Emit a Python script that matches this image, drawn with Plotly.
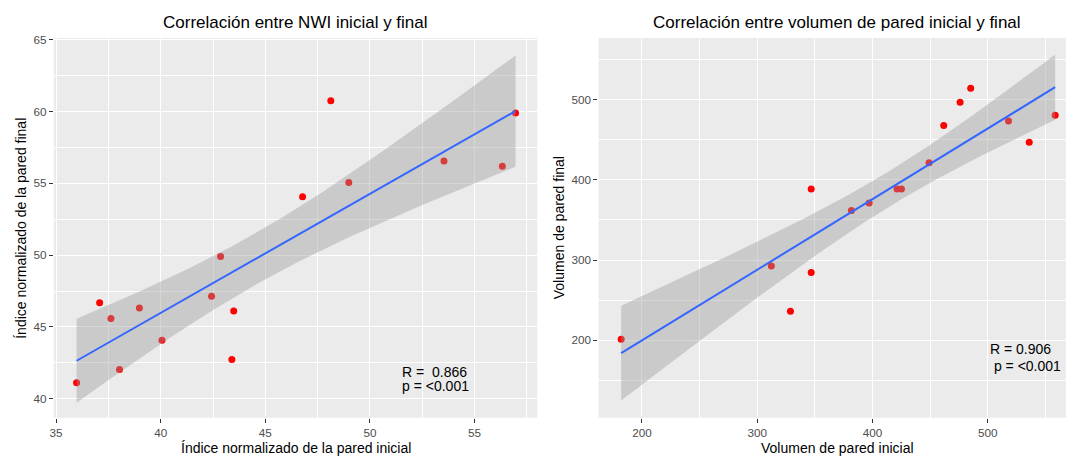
import numpy as np
import plotly.graph_objects as go

# ---------------- data ----------------
nwi_inicial = [46.78, 48.13, 48.99, 53.54, 56.33, 56.96, 35.98, 37.08,
               37.62, 38.03, 38.98, 40.06, 42.43, 42.86, 43.40, 43.49]
nwi_final = [54.07, 60.74, 55.06, 56.55, 56.18, 59.89, 41.11, 46.68,
             45.58, 42.03, 46.31, 44.08, 47.14, 49.91, 42.74, 46.11]

vol_inicial = [346.9, 381.8, 397.2, 421.4, 425.2, 449.2, 461.9, 476.1,
               485.3, 518.1, 536.1, 558.6, 182.0, 312.3, 328.9, 346.9]
vol_final = [388.6, 361.8, 371.1, 388.6, 388.6, 421.1, 467.5, 496.7,
             514.2, 473.2, 446.7, 480.5, 201.2, 292.6, 236.2, 284.4]

titles = ["Correlación entre NWI inicial y final",
          "Correlación entre volumen de pared inicial y final"]
x_titles = ["Índice normalizado de la pared inicial", "Volumen de pared inicial"]
y_titles = ["Índice normalizado de la pared final", "Volumen de pared final"]
stats_r = ["R =\u00a0\u00a00.866", "R = 0.906"]
stats_p = ["p = <0.001", "\u00a0p = <0.001"]

T_975_DF14 = 2.1448  # t quantile for 95% CI, n-2 = 14 df


def lm_band(x, y, n=80):
    x = np.asarray(x, float)
    y = np.asarray(y, float)
    b1, b0 = np.polyfit(x, y, 1)
    xs = np.linspace(x.min(), x.max(), n)
    yh = b0 + b1 * xs
    resid = y - (b0 + b1 * x)
    s = np.sqrt(np.sum(resid ** 2) / (len(x) - 2))
    sxx = np.sum((x - x.mean()) ** 2)
    se = s * np.sqrt(1 / len(x) + (xs - x.mean()) ** 2 / sxx)
    return xs, yh, yh - T_975_DF14 * se, yh + T_975_DF14 * se


FONT = "Liberation Sans, Arial, sans-serif"
W, H = 1066, 456

fig = go.Figure()

panels = [
    dict(x=nwi_inicial, y=nwi_final, xa="x", ya="y"),
    dict(x=vol_inicial, y=vol_final, xa="x2", ya="y2"),
]

for p in panels:
    xs, yh, lo, hi = lm_band(p["x"], p["y"])
    fig.add_trace(go.Scatter(x=p["x"], y=p["y"], mode="markers",
                             marker=dict(color="#FF0000", size=7),
                             xaxis=p["xa"], yaxis=p["ya"], showlegend=False,
                             hoverinfo="skip"))
    fig.add_trace(go.Scatter(x=np.concatenate([xs, xs[::-1]]),
                             y=np.concatenate([hi, lo[::-1]]),
                             fill="toself", fillcolor="rgba(153,153,153,0.4)",
                             line=dict(width=0), mode="lines",
                             xaxis=p["xa"], yaxis=p["ya"], showlegend=False,
                             hoverinfo="skip"))
    fig.add_trace(go.Scatter(x=xs, y=yh, mode="lines",
                             line=dict(color="#3366FF", width=2),
                             xaxis=p["xa"], yaxis=p["ya"], showlegend=False,
                             hoverinfo="skip"))

# panel geometry (pixels)
top_px, bot_px = 33.3, 417.3
l1, r1 = 50.0, 535.3
l2, r2 = 596.7, 1066.0
ydom = [1 - bot_px / H, 1 - top_px / H]

axis_common = dict(showgrid=True, gridcolor="white", gridwidth=1.3,
                   zeroline=False, showline=False, ticks="outside", ticklen=4,
                   tickwidth=1, tickcolor="#333333",
                   tickfont=dict(family=FONT, size=11.7, color="#4D4D4D"))

fig.update_layout(
    width=W, height=H,
    margin=dict(l=0, r=0, t=0, b=0),
    paper_bgcolor="white", plot_bgcolor="#EBEBEB",
    font=dict(family=FONT),
    xaxis=dict(domain=[l1 / W, r1 / W], anchor="y", range=[34.89, 58.0],
               tickvals=[35, 40, 45, 50, 55],
               minor=dict(dtick=2.5, tick0=35, showgrid=True, gridcolor="white",
                          gridwidth=0.7, ticks=""),
               **axis_common),
    yaxis=dict(domain=ydom, anchor="x", range=[38.68, 65.12],
               tickvals=[40, 45, 50, 55, 60, 65],
               minor=dict(dtick=2.5, tick0=40, showgrid=True, gridcolor="white",
                          gridwidth=0.7, ticks=""),
               **axis_common),
    xaxis2=dict(domain=[l2 / W, r2 / W], anchor="y2", range=[162.3, 568.0],
                tickvals=[200, 300, 400, 500],
                minor=dict(dtick=50, tick0=200, showgrid=True, gridcolor="white",
                           gridwidth=0.7, ticks=""),
                **axis_common),
    yaxis2=dict(domain=ydom, anchor="x2", range=[103.4, 576.8],
                tickvals=[200, 300, 400, 500],
                minor=dict(dtick=50, tick0=200, showgrid=True, gridcolor="white",
                           gridwidth=0.7, ticks=""),
                **axis_common),
)

ann = []
centers = [(l1 + r1) / 2, (l2 + 1076.0) / 2]
ytitle_x = [17.0, 556.5]
for i in range(2):
    ann.append(dict(text=titles[i], x=centers[i] / W, y=1 - 17.3 / H,
                    xref="paper", yref="paper", showarrow=False,
                    xanchor="center", yanchor="middle",
                    font=dict(family=FONT, size=17, color="black")))
    ann.append(dict(text=x_titles[i], x=centers[i] / W, y=1 - 448.0 / H,
                    xref="paper", yref="paper", showarrow=False,
                    xanchor="center", yanchor="middle",
                    font=dict(family=FONT, size=14, color="black")))
    ann.append(dict(text=y_titles[i], x=ytitle_x[i] / W,
                    y=1 - ((top_px + bot_px) / 2) / H,
                    xref="paper", yref="paper", showarrow=False, textangle=-90,
                    xanchor="center", yanchor="middle",
                    font=dict(family=FONT, size=14, color="black")))

stat_pos = [((51.45, 41.84), (51.45, 40.88)), ((500.0, 188.9), (500.0, 167.5))]
refs = [("x", "y"), ("x2", "y2")]
for i in range(2):
    (xr, yr), (xp, yp) = stat_pos[i]
    ann.append(dict(text=stats_r[i], x=xr, y=yr, xref=refs[i][0], yref=refs[i][1],
                    showarrow=False, xanchor="left", yanchor="middle",
                    font=dict(family=FONT, size=14, color="black")))
    ann.append(dict(text=stats_p[i], x=xp, y=yp, xref=refs[i][0], yref=refs[i][1],
                    showarrow=False, xanchor="left", yanchor="middle",
                    font=dict(family=FONT, size=14, color="black")))

fig.update_layout(annotations=ann)
fig.write_html("out.html")
